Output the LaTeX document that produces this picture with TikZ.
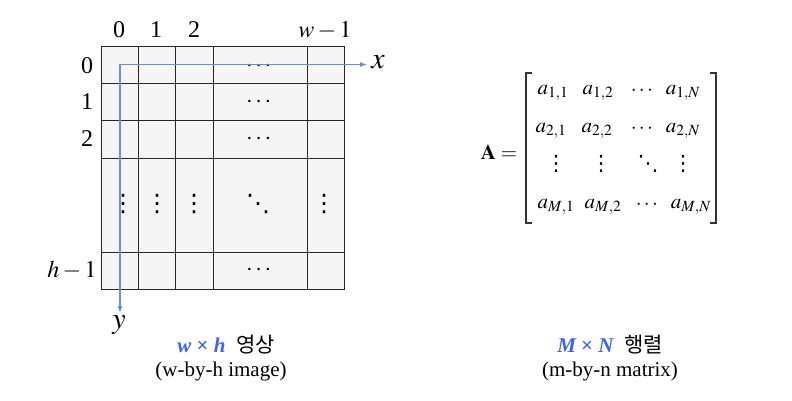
\documentclass[tikz,border=0pt]{standalone}
\usepackage{amsmath}
\usepackage{mathptmx}
\usepackage{fontspec}
\setmainfont{Liberation Serif}
\newfontfamily\krfont{Noto Sans CJK KR}
\newfontfamily\dvfont{DejaVu Sans}
\usetikzlibrary{arrows.meta}
\definecolor{axisblue}{RGB}{112,142,200}
\definecolor{capblue}{RGB}{58,100,240}
\definecolor{cellgray}{RGB}{245,245,245}
\newcommand{\vdts}{{\dvfont ⋮}}
\newcommand{\ddts}{{\dvfont ⋱}}
\tikzset{
  cell/.style={fill=cellgray, draw=black!85, line width=1pt},
  axis/.style={draw=axisblue, line width=1.1pt, {Latex[length=7pt,width=5pt]}-{Latex[length=7pt,width=5pt]}},
  bracket/.style={draw=black!80, line width=1.1pt},
  gridlbl/.style={font=\fontsize{24}{28}\selectfont},
  axislbl/.style={font=\fontsize{30}{34}\selectfont},
  matlbl/.style={font=\fontsize{21}{25}\selectfont},
  caplbl/.style={font=\fontsize{21}{25}\selectfont}
}
\begin{document}
\begin{tikzpicture}[x=1pt, y=-1pt]
\useasboundingbox (0,0) rectangle (792,401);
\foreach \xa/\xb in {101/138, 138/175, 175/213, 213/307, 307/344} {\foreach \ya/\yb in {47/84, 84/121, 121/158, 158/252, 252/289} {\draw[cell] (\xa,\ya) rectangle (\xb,\yb);}}
\foreach \x/\l/\n in {119/0/c0, 156/1/c1, 194/2/c2, 325/{$w-1$}/cw} {\node[gridlbl] (\n) at (\x,30) {\l};}
\foreach \y/\l/\n in {66/0/r0, 102/1/r1, 139/2/r2} {\node[gridlbl] (\n) at (87,\y) {\l};}
\node[gridlbl] (rh) at (72,270) {$h-1$};
\foreach \y/\n in {66/d0, 102/d1, 139/d2, 270/dh} {\node[gridlbl] (\n) at (260,\y) {$\cdots$};}
\foreach \x/\n in {123/v0, 157/v1, 194/v2, 324/vw} {\node[gridlbl, inner sep=0pt] (\n) at (\x,204) {\vdts};}
\node[gridlbl, inner sep=0pt] (dd) at (258,204) {\ddts};
\coordinate (o) at (120,64.5);
\coordinate (xend) at (367,64.5);
\coordinate (yend) at (120,313);
\draw[axis] (xend) -- (o) -- (yend);
\node[axislbl] (xl) at (378,62) {$x$};
\node[axislbl] (yl) at (119,325) {$y$};
\node[matlbl] (A) at (499,152) {$\mathbf{A}=$};
\draw[bracket] (532,73) -- (526,73) -- (526,223) -- (532,223);
\draw[bracket] (710,73) -- (716,73) -- (716,223) -- (710,223);
\foreach \x/\y/\l/\n in {553/93/{$a_{1,1}$}/m11, 598/93/{$a_{1,2}$}/m12, 643/91/{$\cdots$}/m13, 683/93/{$a_{1,N}$}/m14,
  551/131/{$a_{2,1}$}/m21, 597/131/{$a_{2,2}$}/m22, 643/129/{$\cdots$}/m23, 683/131/{$a_{2,N}$}/m24,
  556/164/{\vdts}/m31, 601/164/{\vdts}/m32, 648/164/{\ddts}/m33, 683/164/{\vdts}/m34,
  556/207/{$a_{M,1}$}/m41, 603/207/{$a_{M,2}$}/m42, 648/205/{$\cdots$}/m43, 691/207/{$a_{M,N}$}/m44} {\node[matlbl, inner sep=1pt] (\n) at (\x,\y) {\l};}
\node[caplbl] (imgcap) at (226,345) {{\color{capblue}\bfseries\itshape w \upshape×\itshape\ h}\ \ {\krfont 영상}};
\node[caplbl] (imgsub) at (221,371) {(w-by-h image)};
\node[caplbl] (matcap) at (610,345) {{\color{capblue}\bfseries\itshape M \upshape×\itshape\ N}\ \ {\krfont 행렬}};
\node[caplbl] (matsub) at (610,371) {(m-by-n matrix)};
\end{tikzpicture}
\end{document}
